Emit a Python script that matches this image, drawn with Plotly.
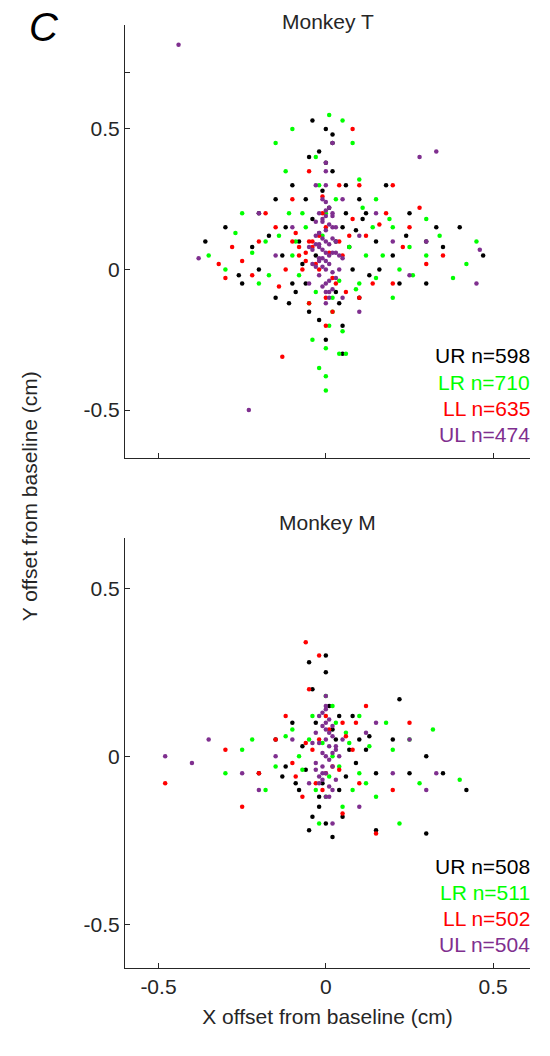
import plotly.graph_objects as go

# ---- Monkey T (top) ----
t_ur_x = [0.47,0.4,0.35,0.3,0.25,-0.36,-0.3,-0.2,-0.15,-0.1,-0.05,-0.04,0.02,0.06,0.1,0.15,0.2,0.1,0.05,-0.05,-0.1,-0.2,-0.25,0.0,0.03,-0.03,0.02,-0.02,0.12,-0.12,0.22,-0.15,0.08,-0.08,0.3,0.18,-0.22,0.05,-0.06,0.01,-0.01,0.04,-0.04,0.02,
          -0.07,0.07,-0.09,0.09,-0.13,0.13,0.0,-0.02,0.03,0.06,-0.06,0.11,-0.11,0.16,-0.17,0.24,-0.26,0.33,0.0,0.05]
t_ur_y = [0.05,0.15,0.08,0.1,0.2,0.1,0.15,0.2,0.25,0.3,0.4,0.53,0.48,0.3,0.25,0.1,0.05,-0.1,-0.2,-0.15,-0.05,0.0,-0.05,-0.25,0.1,0.05,0.35,0.42,0.2,0.15,-0.05,-0.1,0.0,0.1,-0.05,0.3,0.08,0.15,-0.05,0.22,0.28,-0.12,0.18,0.45,
          0.02,0.08,-0.08,0.14,0.05,-0.02,0.38,-0.18,-0.08,0.2,0.25,0.18,-0.12,0.0,0.12,0.12,-0.02,0.15,0.5,-0.3]
t_lr_x = [0.0,0.04,-0.02,0.05,0.45,0.42,0.38,0.3,0.25,-0.27,-0.3,-0.2,-0.25,-0.12,-0.15,0.05,0.08,-0.1,0.15,0.2,0.1,-0.05,0.02,-0.02,0.0,-0.07,0.12,-0.1,0.2,-0.18,0.06,-0.04,0.3,0.34,-0.35,0.1,-0.08,0.15,0.0,0.02,0.01,-0.01,0.03,-0.03,0.07,-0.06,
          -0.14,0.14,-0.22,0.22,0.17,-0.17,0.26,-0.03,0.04,0.0,-0.09,0.09,0.11,-0.11,0.19,0.01]
t_lr_y = [-0.43,-0.3,-0.35,-0.22,0.1,0.02,-0.03,0.18,0.08,0.13,0.0,-0.05,0.2,0.35,0.45,0.53,0.45,0.5,0.25,0.15,-0.05,-0.12,-0.15,0.3,0.2,0.2,0.05,0.05,-0.1,0.1,-0.3,-0.25,0.05,0.12,0.05,0.32,-0.02,-0.03,-0.38,-0.1,-0.2,0.12,0.25,-0.08,0.08,0.15,
          0.12,0.15,0.06,0.0,0.05,-0.02,-0.02,0.4,-0.04,-0.28,0.1,-0.07,0.22,0.2,0.18,0.55]
t_ll_x = [-0.13,-0.32,-0.28,-0.2,-0.3,-0.15,-0.1,-0.05,0.08,0.1,0.2,0.25,0.3,0.35,0.2,0.1,0.0,-0.05,0.05,-0.05,0.12,-0.12,0.18,-0.22,0.0,0.03,-0.02,0.08,-0.18,0.28,0.14,-0.08,-0.04,-0.03,-0.02,0.01,0.02,-0.06,-0.01,0.04,
          -0.1,-0.08,-0.06,-0.04,-0.07,-0.09,0.06,0.07,-0.14,0.16,0.23,-0.25,0.02,-0.01,0.04,0.0]
t_ll_y = [-0.31,0.02,0.08,0.1,-0.03,0.15,0.25,0.35,0.5,0.3,0.3,0.15,0.02,0.05,-0.05,-0.1,-0.2,-0.12,0.05,0.1,0.12,0.0,0.2,-0.02,0.15,-0.05,0.0,0.18,0.2,0.22,-0.05,0.05,0.08,0.02,0.12,0.06,-0.03,0.03,0.2,0.1,
          0.1,0.08,0.06,0.1,0.0,0.13,-0.08,0.12,-0.06,0.16,0.08,0.03,-0.15,0.26,0.3,-0.1]
t_ul_x = [-0.44,-0.23,0.33,0.28,0.45,0.46,-0.38,-0.2,0.02,0.0,-0.03,0.05,0.1,-0.1,0.15,-0.05,0.05,0.0,0.2,-0.15,0.25,-0.02,0.3,0.1,
          0.0,0.01,-0.01,0.02,-0.02,0.03,-0.03,0.04,-0.04,0.0,0.01,-0.01,0.02,-0.02,0.0,0.03,-0.03,0.01,-0.01,0.0,0.02,-0.02,0.04,-0.04,0.0,0.01,-0.01,0.0,0.05,-0.05,0.02,-0.02,
          0.0,0.01,-0.01,0.02,-0.02,0.03,-0.03,0.0,0.01,-0.01,0.02,-0.02,0.0,0.03,-0.03,0.01,-0.01,0.0,0.02,-0.02,0.0,0.01,-0.01,0.0]
t_ul_y = [0.8,-0.5,0.42,0.4,-0.05,0.07,0.04,0.2,0.45,0.38,0.3,0.25,0.12,0.15,0.2,-0.05,-0.1,-0.08,0.1,0.05,-0.02,0.2,0.1,-0.15,
          0.0,0.02,0.04,0.06,0.08,0.1,0.12,0.05,0.07,0.14,0.16,0.18,0.2,-0.02,-0.05,-0.03,0.01,0.22,0.25,0.1,-0.07,0.09,0.0,0.02,0.3,-0.1,0.11,0.06,0.04,0.08,0.15,0.13,
          0.03,0.05,0.07,0.11,0.13,0.15,0.17,0.19,0.09,0.01,-0.01,0.04,-0.12,0.06,0.09,-0.04,-0.06,0.21,0.19,0.03,0.24,-0.08,0.17,0.35]

# ---- Monkey M (bottom) ----
m_ur_x = [0.42,0.3,0.22,0.15,-0.05,0.0,0.0,-0.04,-0.1,-0.2,0.1,0.2,0.15,-0.05,0.02,0.05,-0.15,0.25,-0.08,0.08,0.3,0.35,-0.12,0.12,-0.03,0.04,0.01,-0.02,0.03,-0.01,
          -0.06,0.06,-0.07,0.07,-0.09,0.09,0.0,-0.02,0.02,-0.04,0.04,0.13,-0.13]
m_ur_y = [-0.1,-0.23,0.17,-0.22,0.28,0.3,0.25,0.2,0.1,-0.05,0.05,0.05,-0.05,-0.22,-0.24,-0.18,0.05,-0.05,-0.1,0.12,0.0,-0.05,-0.03,0.02,0.1,-0.1,0.15,-0.15,0.05,-0.08,
          -0.04,-0.06,0.03,0.02,-0.08,-0.02,-0.2,-0.12,0.08,-0.18,0.12,0.06,-0.06]
m_lr_x = [0.4,0.32,0.25,0.22,0.13,-0.3,-0.22,-0.15,-0.1,0.02,-0.02,0.05,0.1,0.18,-0.05,0.06,0.28,-0.18,0.0,0.15,-0.25,0.1,0.01,-0.01,0.03,-0.03,0.02,
          -0.07,0.07,-0.12,0.12,0.04,-0.04,0.0,0.08,-0.08,0.2]
m_lr_y = [-0.07,0.08,0.05,-0.2,0.03,-0.05,0.05,-0.03,0.08,0.15,-0.2,-0.15,-0.05,0.1,0.05,0.07,-0.08,-0.1,-0.12,-0.12,0.02,0.12,-0.06,0.04,0.1,-0.1,0.0,
          -0.04,0.04,0.06,-0.08,-0.03,0.12,0.18,-0.1,0.0,0.02]
m_ll_x = [-0.06,-0.02,-0.48,-0.25,-0.3,-0.2,-0.12,-0.05,0.05,0.1,0.2,0.15,0.25,0.05,-0.1,0.08,-0.15,0.0,0.12,-0.07,-0.02,0.02,-0.03,0.01,
          -0.04,0.04,-0.06,0.06,-0.09,0.09,0.0,-0.01]
m_ll_y = [0.34,0.3,-0.08,-0.15,0.02,-0.05,0.12,0.2,0.1,-0.08,-0.1,-0.23,0.1,-0.17,-0.02,0.02,0.05,-0.05,0.15,-0.12,0.05,-0.03,-0.08,0.08,
          0.02,-0.04,0.04,0.06,-0.06,0.1,0.12,-0.1]
m_ul_x = [-0.48,-0.4,-0.35,-0.2,0.33,0.25,0.2,0.12,-0.1,-0.05,0.05,0.0,0.02,-0.15,0.1,0.15,-0.25,0.3,
          0.0,0.01,-0.01,0.02,-0.02,0.03,-0.03,0.0,0.01,-0.01,0.02,-0.02,0.0,0.04,-0.04,0.0,0.01,-0.01,0.03,-0.03,0.0,0.02,
          0.0,0.01,-0.01,0.02,-0.02,0.0,0.01,-0.01,0.03,-0.03,0.0,0.02,-0.02,0.01,-0.01]
m_ul_y = [0.0,-0.02,0.05,-0.1,-0.05,0.05,-0.05,0.07,0.05,-0.08,0.05,0.15,-0.2,0.0,-0.15,0.1,-0.05,-0.1,
          0.0,0.03,-0.03,0.06,-0.06,0.02,-0.02,0.1,-0.09,0.09,-0.1,0.12,-0.12,0.0,0.04,0.14,0.07,-0.05,-0.07,0.07,0.18,0.01,
          0.05,-0.01,0.01,-0.03,0.04,-0.05,0.11,-0.07,0.03,-0.04,0.08,0.09,-0.08,-0.12,0.13]

colors = {"UR": "black", "LR": "#00ff00", "LL": "#ff0000", "UL": "#7f2f8f"}
t_counts = {"UR": 598, "LR": 710, "LL": 635, "UL": 474}
m_counts = {"UR": 508, "LR": 511, "LL": 502, "UL": 504}

fig = go.Figure()
top = [("UR", t_ur_x, t_ur_y), ("LR", t_lr_x, t_lr_y), ("LL", t_ll_x, t_ll_y), ("UL", t_ul_x, t_ul_y)]
bot = [("UR", m_ur_x, m_ur_y), ("LR", m_lr_x, m_lr_y), ("LL", m_ll_x, m_ll_y), ("UL", m_ul_x, m_ul_y)]
for name, xs, ys in top:
    fig.add_trace(go.Scatter(x=xs, y=ys, mode="markers", xaxis="x", yaxis="y",
                             marker=dict(size=4.5, color=colors[name]), showlegend=False))
for name, xs, ys in bot:
    fig.add_trace(go.Scatter(x=xs, y=ys, mode="markers", xaxis="x2", yaxis="y2",
                             marker=dict(size=4.5, color=colors[name]), showlegend=False))

font = dict(family="Liberation Sans, Arial", size=21, color="#262626")
axcommon = dict(showgrid=False, zeroline=False, showline=True, linecolor="#262626", automargin=False,
                ticks="inside", ticklen=5, tickcolor="#262626", tickfont=font)
tick_vals = [-0.5, 0, 0.5]
tick_text = ["-0.5", "0", "0.5"]

H = 1048
fig.update_layout(
    width=542, height=H, plot_bgcolor="white", paper_bgcolor="white",
    margin=dict(l=117, r=20, t=17, b=88),
    xaxis=dict(domain=[0, 1], range=[-0.6, 0.61], anchor="y", tickvals=tick_vals,
               showticklabels=False, **axcommon),
    yaxis=dict(domain=[0.541, 1], range=[-0.67, 0.87], anchor="x", tickvals=[-0.5, 0, 0.5, 0.7],
               ticktext=["-0.5", "0", "0.5", ""], **axcommon),
    xaxis2=dict(domain=[0, 1], range=[-0.6, 0.61], anchor="y2", tickvals=tick_vals, ticktext=tick_text,
                title=dict(text="X offset from baseline (cm)", font=font, standoff=12), **axcommon),
    yaxis2=dict(domain=[0, 0.456], range=[-0.63, 0.65], anchor="x2", tickvals=tick_vals, ticktext=tick_text,
                **axcommon),
)

ann = []
ann.append(dict(text="Monkey T", x=0.5, y=1.0, xref="paper", yref="paper", xanchor="center",
                yanchor="bottom", showarrow=False, font=font, yshift=-10))
ann.append(dict(text="Monkey M", x=0.5, y=0.456, xref="paper", yref="paper", xanchor="center",
                yanchor="bottom", showarrow=False, font=font, yshift=2))
ann.append(dict(text="<i>C</i>", x=-0.2, y=1.0, xref="paper", yref="paper", xanchor="center",
                yanchor="middle", showarrow=False, font=dict(family="Liberation Sans", size=40, color="black"), yshift=-2))
ann.append(dict(text="Y offset from baseline (cm)", x=-0.235, y=0.5, xref="paper", yref="paper",
                textangle=-90, showarrow=False, font=font, xanchor="center", yanchor="middle"))
for i, k in enumerate(["UR", "LR", "LL", "UL"]):
    ann.append(dict(text=f"{k} n={t_counts[k]}", x=1.005, y=(968 - (356 + i * 26.3)) / 943, xref="paper",
                    yref="paper", xanchor="right", yanchor="middle", showarrow=False,
                    font=dict(family=font["family"], size=21, color=colors[k])))
for i, k in enumerate(["UR", "LR", "LL", "UL"]):
    ann.append(dict(text=f"{k} n={m_counts[k]}", x=1.005, y=(968 - (866 + i * 26)) / 943, xref="paper",
                    yref="paper", xanchor="right", yanchor="middle", showarrow=False,
                    font=dict(family=font["family"], size=21, color=colors[k])))
fig.update_layout(annotations=ann)
fig.write_html("out.html")
